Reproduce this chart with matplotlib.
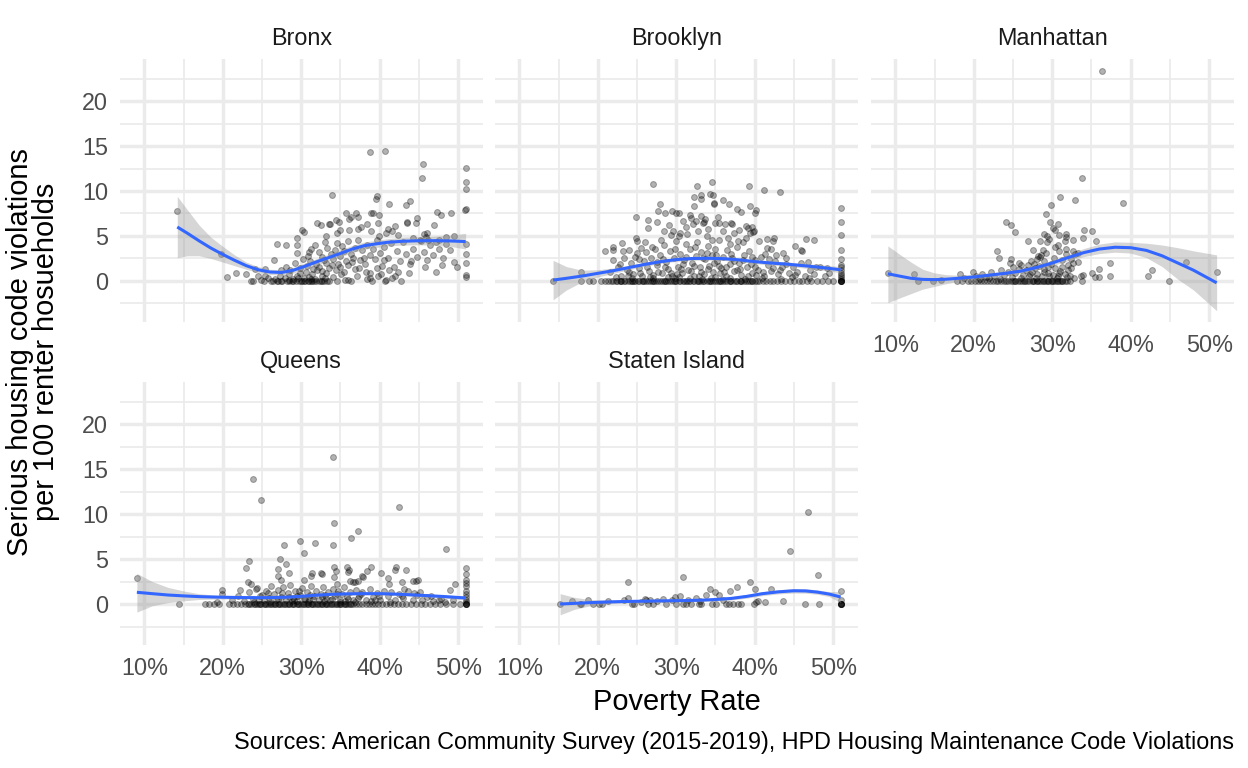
import matplotlib
matplotlib.use("Agg")
import matplotlib.pyplot as plt

# ---------------- data ----------------
boroughs = ["Bronx", "Brooklyn", "Manhattan", "Queens", "Staten Island"]

x_ticks = [10, 20, 30, 40, 50]
x_tick_labels = ["10%", "20%", "30%", "40%", "50%"]
y_ticks = [0, 5, 10, 15, 20]
y_tick_labels = ["0", "5", "10", "15", "20"]

bronx_points = [
    (14.2, 7.8), (38.8, 14.3), (40.7, 14.5), (45.5, 13.0), (45.4, 11.5), (50.95, 12.6), (50.95, 11.0),
    (50.95, 10.2), (50.95, 8.0), (33.9, 9.6), (39.7, 9.4), (39.5, 9.1), (41.2, 8.6), (43.4, 8.4),
    (43.9, 8.9), (47.3, 7.7), (47.8, 7.3), (49.1, 7.5), (50.9, 7.9),
    (35.7, 7.6), (36.3, 7.1), (36.1, 6.9), (37.0, 7.6), (37.2, 7.1), (38.9, 7.5), (39.2, 7.6), (39.9, 7.3),
    (39.8, 6.4), (42.0, 6.1), (43.5, 6.4), (44.6, 6.4), (46.9, 6.2), (32.0, 6.4), (32.5, 6.2), (33.5, 6.3),
    (33.7, 6.3), (34.8, 6.6), (34.4, 6.8), (30.1, 5.7), (30.3, 5.4), (33.1, 5.0), (34.6, 5.3), (35.0, 5.7),
    (36.1, 5.7), (37.2, 5.8), (37.6, 6.0), (38.4, 6.3), (38.9, 5.5), (39.9, 5.0), (40.8, 5.3), (41.0, 5.8),
    (41.6, 5.5), (42.3, 5.1), (45.7, 5.2), (45.9, 4.9), (46.0, 5.3), (48.4, 4.9), (49.5, 5.0), (44.7, 7.0),
    (43.5, 6.5),
    (26.9, 4.1), (28.1, 4.0), (29.4, 4.8), (29.4, 4.0), (29.4, 3.1), (26.5, 2.3), (19.8, 3.0), (31.2, 3.6),
    (31.0, 3.2), (31.7, 4.0), (32.3, 3.2), (32.6, 2.7), (33.0, 4.3), (33.3, 3.7), (33.8, 3.0), (34.0, 2.4),
    (34.3, 3.4), (34.6, 4.2), (34.9, 2.8), (35.2, 3.9), (35.5, 3.3), (35.7, 2.2), (36.0, 4.4), (36.3, 3.0),
    (36.6, 2.6), (36.9, 3.7), (37.2, 4.6), (37.5, 2.3), (37.8, 3.4), (38.1, 1.9), (38.4, 4.0), (38.7, 2.9),
    (39.1, 3.6), (39.4, 2.4), (39.7, 4.5), (40.0, 3.1), (40.3, 1.7), (40.6, 3.8), (41.0, 2.6), (41.4, 4.2),
    (41.8, 1.6), (42.2, 3.3), (42.6, 2.2), (43.0, 4.3), (43.4, 3.0), (43.8, 1.9), (44.3, 3.6), (44.7, 2.7),
    (45.1, 4.6), (45.6, 3.2), (46.0, 2.3), (46.4, 4.0), (46.8, 2.9), (47.2, 4.3), (47.6, 3.5), (48.1, 2.6),
    (48.5, 4.1), (49.0, 3.4), (49.5, 2.1), (50.95, 4.1), (50.95, 3.0), (50.95, 2.0), (44.2, 4.8), (45.2, 4.4),
    (46.2, 4.5), (47.5, 4.5),
    (20.6, 0.4), (21.7, 0.9), (22.9, 0.8), (24.1, 1.3), (24.5, 0.6), (25.4, 1.3), (25.4, 0.5), (27.4, 1.2),
    (28.0, 1.5), (28.6, 1.2), (29.2, 2.0), (29.8, 1.4), (30.2, 2.4), (30.7, 1.7), (31.1, 2.2), (31.5, 1.3),
    (31.9, 1.9), (32.2, 1.5), (32.7, 1.1), (33.1, 2.0), (33.5, 1.4), (33.9, 1.8), (34.4, 1.2), (35.0, 1.6),
    (35.4, 1.0), (36.0, 1.8), (36.8, 1.3), (37.4, 1.4), (38.2, 1.0), (38.8, 0.9), (39.6, 1.4), (40.2, 0.8),
    (41.2, 1.2), (42.3, 1.0), (43.7, 0.9), (47.2, 1.0), (48.0, 1.8), (50.95, 0.7), (50.95, 0.4), (49.8, 1.5),
    (24.9, 0.1), (25.8, 0.3), (26.7, 0.2), (27.3, 0.5), (27.9, 0.3), (28.5, 0.8), (29.0, 0.2), (29.5, 0.5),
    (29.9, 0.9), (30.3, 0.3), (30.6, 1.0), (31.0, 0.4), (31.4, 0.8), (31.8, 0.2), (32.0, 1.2), (32.6, 0.5),
    (33.2, 0.9), (34.0, 0.4), (35.1, 0.8), (35.6, 0.1), (37.1, 0.6), (38.7, 0.3), (39.8, 0.5), (41.6, 0.3),
    (42.0, 0.6), (35.9, 0.1), (38.4, 0.2), (40.8, 0.1), (31.3, 0.2), (33.0, 0.3), (29.6, 0.3), (28.4, 0.1),
    (30.9, 2.8), (32.9, 2.3), (34.7, 1.9), (36.5, 2.1), (38.0, 2.6), (40.5, 2.3), (44.0, 2.2), (45.8, 1.5),
]
bronx_zero_x = [23.6, 23.8, 25.3, 26.1, 26.4, 26.9, 27.1, 27.6, 28.2, 28.8, 29.3, 29.7, 30.1, 30.5, 30.8,
                31.2, 31.6, 32.3, 32.9, 33.6, 34.5, 36.4, 39.0, 40.7, 42.7, 29.0, 30.3, 31.0, 31.9, 32.6,
                33.3, 28.5, 27.4, 30.0, 32.5, 31.4]

brooklyn_points = [
    (27.0, 10.8), (32.7, 10.6), (34.6, 11.0), (39.3, 10.6), (41.2, 10.1), (43.2, 9.9), (32.3, 9.3),
    (33.1, 9.6), (34.3, 9.7), (34.7, 9.5), (27.9, 8.6), (32.2, 8.3), (34.8, 8.7), (36.0, 9.0), (36.7, 8.6),
    (37.7, 8.0), (38.3, 7.7), (39.4, 8.3), (40.2, 7.9), (40.0, 7.5), (24.9, 7.1), (26.4, 6.8), (26.4, 5.9),
    (27.7, 7.8), (28.6, 7.5), (29.4, 7.8), (30.0, 7.5), (30.3, 7.5), (27.5, 6.5), (29.1, 6.2), (31.7, 7.3),
    (31.9, 7.0), (33.2, 7.2), (33.4, 6.4), (35.3, 7.1), (35.5, 6.4), (36.2, 6.3), (37.0, 6.4), (38.9, 6.1),
    (39.1, 5.9), (30.9, 6.7), (31.2, 6.0), (29.6, 5.6), (30.5, 5.3), (32.8, 5.5), (34.0, 5.8), (35.9, 5.6),
    (37.4, 5.3), (38.0, 5.7), (39.8, 5.4), (33.7, 6.9), (28.4, 5.5), (33.1, 9.1), (34.8, 8.6), (37.1, 6.3),
    (33.6, 6.6), (32.1, 6.3), (32.5, 6.7), (34.9, 6.4), (39.6, 6.0), (39.4, 5.3), (39.9, 5.5), (38.9, 4.8),
    (38.5, 4.3), (40.6, 4.4), (41.6, 4.7), (42.4, 4.8), (42.3, 4.4), (41.6, 3.7), (42.1, 3.6), (41.3, 3.0),
    (42.7, 2.9), (45.1, 3.9), (46.0, 3.3), (46.5, 4.7), (47.5, 4.5), (46.8, 2.1), (47.8, 1.5), (49.2, 1.4),
    (45.9, 3.4), (44.0, 1.9), (43.6, 3.1),
    (50.95, 8.1), (50.95, 6.6), (50.95, 5.1), (50.95, 3.4), (50.95, 2.4), (50.95, 1.8), (50.95, 1.5),
    (50.95, 1.2), (50.95, 0.9), (50.95, 0.7), (50.95, 0.4), (50.95, 0.2),
    (17.9, 1.0), (20.9, 3.3), (21.9, 3.8), (21.9, 3.4), (23.1, 4.2), (23.2, 3.3), (24.0, 3.4), (25.0, 3.1),
    (25.5, 3.7), (24.9, 4.8), (25.0, 4.4), (21.5, 1.0), (22.0, 2.3), (22.6, 1.5), (23.0, 0.6), (23.4, 2.5),
    (23.7, 1.2), (24.2, 2.0), (24.5, 0.8), (24.8, 2.7), (25.2, 1.4), (25.6, 0.5), (25.9, 2.2), (26.2, 3.2),
    (26.5, 1.1), (26.8, 2.5), (27.1, 0.7), (27.3, 3.6), (27.6, 1.8), (27.9, 2.9), (28.2, 0.9), (28.5, 4.0),
    (28.7, 2.1), (29.0, 1.3), (29.2, 3.3), (29.5, 0.6), (29.7, 2.6), (30.0, 4.4), (30.2, 1.6), (30.5, 3.0),
    (30.7, 0.9), (31.0, 2.3), (31.2, 4.1), (31.5, 1.2), (31.7, 3.5), (32.0, 2.0), (32.2, 0.5), (32.5, 2.8),
    (32.7, 4.3), (33.0, 1.5), (33.2, 3.2), (33.5, 0.8), (33.7, 2.4), (34.0, 3.9), (34.2, 1.7), (34.5, 2.9),
    (34.7, 1.0), (35.0, 3.6), (35.2, 2.2), (35.5, 4.5), (35.7, 1.4), (36.0, 2.7), (36.3, 0.6), (36.5, 3.4),
    (36.8, 1.9), (37.1, 2.6), (37.4, 1.1), (37.7, 3.8), (38.0, 2.0), (38.3, 0.7), (38.6, 2.9), (39.0, 1.5),
    (39.3, 3.3), (39.7, 0.9), (40.0, 2.3), (40.4, 1.2), (40.8, 2.7), (41.2, 0.6), (41.7, 1.8), (42.1, 1.1),
    (42.6, 2.2), (43.0, 0.8), (43.5, 1.5), (44.0, 2.5), (44.4, 0.9), (44.9, 1.6), (45.4, 1.0), (45.9, 2.0),
    (46.4, 0.6), (47.0, 1.2), (47.6, 0.8), (48.3, 1.6), (48.9, 0.5), (49.5, 0.9), (30.4, 5.0), (31.4, 5.2),
    (33.9, 5.0), (36.6, 4.8), (28.0, 4.6), (29.3, 5.1), (34.6, 4.6), (37.9, 4.4), (26.0, 4.3), (27.0, 0.3),
    (28.9, 0.4), (31.8, 0.3), (33.3, 0.2), (34.9, 0.4), (36.9, 0.3), (38.8, 0.2), (40.9, 0.3), (43.3, 0.2),
    (29.9, 0.3), (32.9, 0.5), (35.9, 0.2), (24.3, 0.3), (22.3, 0.4), (26.3, 1.6), (28.3, 2.4), (30.8, 1.9),
    (33.4, 2.6), (35.4, 1.7), (37.3, 2.2), (39.5, 1.9), (31.9, 1.1), (34.1, 1.3), (36.1, 1.0), (30.1, 0.8),
    (27.7, 1.0), (25.4, 0.9), (23.8, 0.5), (38.1, 1.3), (40.2, 0.7), (42.3, 1.4), (44.7, 0.4), (46.9, 0.3),
    (22.8, 1.9), (24.0, 1.0), (25.3, 2.4), (26.6, 0.4), (27.5, 2.1), (28.6, 1.5), (29.3, 0.9), (30.6, 1.3),
    (31.3, 2.7), (32.3, 1.7), (33.1, 1.0), (33.9, 3.1), (34.8, 2.0), (35.6, 0.9), (36.4, 1.6), (37.0, 3.0),
    (37.8, 1.2), (38.5, 2.3), (39.2, 0.6), (40.1, 1.6), (41.0, 1.0), (41.8, 2.4), (43.2, 1.2), (45.1, 0.7),
    (26.9, 3.8), (29.9, 3.5), (32.4, 3.8), (35.1, 2.9), (36.9, 4.1), (39.6, 2.7), (30.3, 0.4), (34.4, 0.3),
]
brooklyn_zero_x = [14.3, 17.9, 18.9, 19.4, 20.4, 20.9, 21.3, 21.7, 22.0, 22.3, 22.5, 22.8, 23.0, 23.3, 23.5,
                   23.8, 24.1, 24.3, 24.6, 24.8, 25.1, 25.3, 25.6, 25.9, 26.1, 26.4, 26.6, 26.9, 27.2, 27.4,
                   27.7, 27.9, 28.2, 28.4, 28.7, 29.0, 29.2, 29.5, 29.7, 30.0, 30.3, 30.5, 30.8, 31.0, 31.3,
                   31.6, 31.8, 32.1, 32.3, 32.6, 32.9, 33.1, 33.4, 33.6, 33.9, 34.2, 34.4, 34.7, 34.9, 35.2,
                   35.5, 35.7, 36.0, 36.2, 36.5, 36.8, 37.0, 37.3, 37.6, 37.8, 38.1, 38.3, 38.6, 38.9, 39.1,
                   39.4, 39.7, 40.0, 40.3, 40.6, 41.0, 41.5, 42.0, 42.3, 42.9, 43.4, 43.8, 44.5, 45.0, 45.6,
                   46.0, 46.7, 47.2, 47.9, 48.6, 49.3, 50.0, 50.95, 50.95, 50.95, 50.95, 50.95,
                   22.9, 24.4, 25.8, 27.1, 28.6, 29.9, 31.4, 32.8, 34.3, 35.6, 36.9, 38.2, 39.6]

manhattan_points = [
    (36.3, 23.3), (33.8, 11.4), (31.0, 9.3), (29.8, 8.4), (32.9, 9.0), (39.0, 8.7), (29.2, 7.4), (24.1, 6.6),
    (24.8, 6.2), (25.3, 5.4), (29.7, 6.5), (30.1, 5.9), (30.4, 5.7), (30.7, 6.3), (28.9, 5.2), (29.3, 5.0),
    (29.6, 4.7), (28.5, 4.4), (29.3, 4.3), (26.9, 4.4), (30.9, 5.1), (31.7, 5.2), (31.8, 4.9), (31.6, 4.4),
    (30.7, 4.0), (30.8, 3.3), (31.7, 3.6), (31.8, 3.0), (32.6, 4.6), (33.9, 4.8), (34.1, 5.7), (35.1, 5.6),
    (35.6, 4.4), (23.0, 3.3), (23.2, 2.6), (24.8, 2.4), (24.6, 2.0), (25.8, 2.0), (26.0, 1.8), (28.2, 2.8),
    (28.4, 2.7), (28.6, 2.9), (28.0, 2.4), (27.3, 2.2), (27.7, 1.9), (26.9, 1.8), (32.6, 3.3), (32.9, 3.0),
    (33.3, 3.1), (32.4, 2.4), (32.6, 2.0), (32.0, 1.8), (32.4, 1.4), (33.3, 2.1), (33.9, 0.7), (33.7, 0.55),
    (35.1, 0.9), (35.4, 0.45), (36.0, 1.3), (36.0, 0.45), (37.3, 0.55), (37.3, 2.0), (42.2, 0.55),
    (42.7, 1.2), (47.1, 2.1), (50.95, 1.0), (9.05, 0.85), (12.4, 0.8), (15.8, 0.15), (18.2, 0.8),
    (18.8, 0.3), (19.9, 1.0), (20.3, 0.6), (21.0, 0.8), (21.5, 0.4), (22.2, 1.0), (22.6, 0.5), (23.5, 1.2),
    (23.9, 0.7), (24.4, 1.0), (25.0, 1.6), (25.3, 0.9), (25.7, 1.3), (26.3, 0.7), (26.6, 1.2), (27.0, 0.5),
    (27.4, 1.0), (27.8, 1.4), (28.1, 0.8), (28.3, 1.7), (28.7, 0.6), (29.0, 1.3), (29.4, 0.9), (29.8, 1.9),
    (30.1, 0.7), (30.4, 1.4), (30.7, 0.5), (31.0, 1.1), (31.3, 2.3), (31.6, 0.8), (32.0, 1.2), (32.3, 0.6),
    (29.0, 2.2), (29.5, 1.6), (30.2, 2.6), (31.2, 1.6), (28.8, 3.4), (29.2, 3.1), (30.3, 3.8), (27.5, 3.4),
    (27.9, 0.3), (26.0, 0.3), (24.9, 0.4), (23.3, 0.2), (22.0, 0.3), (20.8, 0.2), (30.6, 0.3), (31.9, 0.4),
    (32.8, 0.3), (28.9, 1.0), (30.9, 0.9), (27.2, 0.8), (29.6, 0.5),
]
manhattan_zero_x = [12.9, 14.8, 17.9, 18.5, 19.2, 19.6, 20.1, 20.5, 20.9, 21.3, 21.7, 22.1, 22.4, 22.8, 23.1,
                    23.5, 23.8, 24.1, 24.4, 24.7, 25.0, 25.3, 25.6, 25.9, 26.2, 26.5, 26.8, 27.1, 27.4, 27.7,
                    28.0, 28.3, 28.6, 28.9, 29.2, 29.5, 29.8, 30.1, 30.4, 30.7, 31.0, 31.3, 31.6, 31.9, 32.2,
                    33.8, 44.9, 28.1, 28.8, 29.4, 30.0, 30.6, 31.2, 25.2, 26.4, 27.5]

queens_points = [
    (9.05, 2.9), (34.1, 16.3), (23.9, 13.9), (24.9, 11.6), (42.5, 10.8), (34.2, 9.0), (37.2, 8.1),
    (36.3, 7.3), (29.9, 7.0), (31.7, 6.8), (34.1, 6.6), (27.8, 6.6), (30.3, 5.7), (48.4, 6.1), (27.3, 5.0),
    (23.4, 4.8), (23.0, 4.0), (27.1, 3.9), (28.1, 4.4), (28.4, 3.4), (27.1, 3.1), (27.4, 2.7), (23.2, 2.4),
    (23.6, 2.2), (24.2, 1.7), (22.2, 1.6), (19.9, 1.6), (19.9, 1.1), (19.3, 0.2), (31.4, 3.4), (31.3, 3.1),
    (32.7, 3.3), (30.4, 2.7), (34.2, 4.1), (34.4, 3.7), (34.2, 3.0), (34.6, 2.2), (36.1, 3.8), (35.9, 3.6),
    (36.2, 2.6), (36.6, 2.4), (37.2, 2.6), (37.8, 3.1), (38.4, 3.7), (38.9, 4.1), (40.2, 3.4), (41.0, 2.9),
    (41.2, 2.2), (41.9, 3.8), (42.1, 4.1), (42.8, 2.4), (43.4, 3.8), (44.3, 2.6), (44.6, 2.6), (44.9, 2.7),
    (44.4, 1.2), (47.8, 0.6), (49.0, 1.6), (49.6, 2.2), (32.5, 3.4), (35.8, 4.1), (36.8, 2.5), (37.9, 3.0),
    (43.1, 1.7), (46.5, 0.9),
    (50.95, 4.0), (50.95, 3.3), (50.95, 2.7), (50.95, 2.3), (50.95, 2.0), (50.95, 1.5), (50.95, 1.1),
    (50.95, 0.8), (50.95, 0.4), (50.95, 0.2),
    (21.2, 0.4), (22.0, 0.9), (22.7, 0.3), (23.3, 1.3), (23.9, 0.6), (24.4, 1.8), (24.8, 0.9), (25.2, 0.4),
    (25.5, 1.4), (25.9, 0.7), (26.2, 2.0), (26.5, 1.1), (26.8, 0.5), (27.1, 1.6), (27.4, 0.8), (27.7, 1.9),
    (28.0, 0.4), (28.3, 1.2), (28.6, 2.1), (28.9, 0.7), (29.2, 1.5), (29.5, 0.3), (29.8, 1.0), (30.1, 1.8),
    (30.4, 0.6), (30.7, 1.3), (31.0, 0.4), (31.3, 2.0), (31.6, 0.9), (31.9, 1.5), (32.2, 0.5), (32.5, 1.1),
    (32.8, 1.9), (33.1, 0.7), (33.4, 1.3), (33.7, 0.4), (34.0, 1.7), (34.3, 0.9), (34.7, 1.4), (35.0, 0.5),
    (35.4, 1.9), (35.8, 0.8), (36.2, 1.3), (36.6, 0.4), (37.0, 1.6), (37.4, 0.9), (37.8, 1.3), (38.2, 0.5),
    (38.7, 1.7), (39.1, 0.8), (39.6, 1.2), (40.0, 0.5), (40.5, 1.5), (41.0, 0.9), (41.5, 1.3), (42.0, 0.4),
    (42.5, 1.1), (43.0, 0.7), (43.6, 1.4), (44.2, 0.5), (44.8, 1.0), (45.4, 0.4), (46.0, 0.8), (46.8, 0.3),
    (47.5, 0.5), (48.3, 0.2), (49.4, 0.5), (26.0, 0.2), (28.8, 0.3), (30.9, 0.2), (32.9, 0.3), (34.9, 0.2),
    (36.9, 0.2), (38.9, 0.3), (41.3, 0.2), (24.0, 0.2), (27.6, 1.2), (29.4, 0.9), (31.1, 1.0), (33.0, 1.0),
    (35.2, 1.1), (37.2, 0.7), (39.9, 0.9), (25.0, 1.0), (30.5, 0.6), (33.9, 0.6),
    (24.6, 0.5), (25.8, 1.2), (27.0, 0.6), (28.5, 0.8), (29.7, 1.4), (31.5, 0.6), (32.7, 0.8), (34.5, 1.1),
    (36.0, 0.6), (37.6, 1.1), (39.4, 0.4), (42.8, 0.9), (45.1, 1.3), (29.1, 0.5), (35.6, 0.3),
]
queens_zero_x = [14.4, 17.7, 18.3, 18.9, 19.5, 20.8, 21.3, 21.8, 22.3, 22.8, 23.2, 23.6, 24.0, 24.3, 24.6,
                 24.9, 25.2, 25.5, 25.8, 26.1, 26.4, 26.7, 27.0, 27.3, 27.6, 27.9, 28.2, 28.5, 28.8, 29.1,
                 29.4, 29.7, 30.0, 30.3, 30.6, 30.9, 31.2, 31.5, 31.8, 32.1, 32.4, 32.7, 33.0, 33.3, 33.6,
                 33.9, 34.2, 34.5, 34.8, 35.1, 35.4, 35.7, 36.0, 36.3, 36.6, 37.0, 37.4, 37.8, 38.2, 38.6,
                 39.0, 39.4, 39.8, 40.3, 40.8, 41.3, 41.8, 42.3, 42.8, 43.4, 44.0, 44.6, 45.2, 45.8, 46.4,
                 47.0, 47.7, 48.5, 49.3, 50.2, 50.95, 50.95, 50.95, 50.95,
                 23.4, 24.1, 24.8, 25.4, 26.0, 26.6, 27.2, 27.8, 28.4, 29.0, 29.6, 30.2, 30.8, 31.4, 32.0,
                 32.6, 33.2, 33.8, 34.4, 35.0, 35.6, 36.2]

staten_points = [
    (16.7, 0.3), (18.7, 0.4), (21.3, 0.3), (23.4, 0.5), (23.8, 0.7), (23.9, 2.4), (26.0, 0.6), (26.2, 0.4),
    (26.7, 0.5), (28.3, 0.6), (29.4, 0.5), (29.8, 0.8), (30.5, 0.9), (30.9, 3.0), (32.5, 0.7), (33.8, 1.0),
    (34.3, 1.7), (34.9, 1.3), (35.5, 0.96), (36.9, 1.5), (37.7, 1.9), (39.4, 2.5), (40.0, 1.7), (40.2, 0.26),
    (40.4, 0.33), (41.3, 0.26), (42.1, 1.7), (43.6, 0.3), (44.5, 5.9), (46.8, 10.2), (48.1, 3.2),
    (50.95, 1.5), (50.95, 0.4), (27.5, 0.3), (31.5, 0.4), (33.0, 0.3), (35.9, 0.4), (25.5, 0.2),
]
staten_zero_x = [15.2, 17.7, 17.9, 19.4, 20.2, 20.6, 24.3, 24.6, 26.4, 27.0, 28.7, 30.0, 30.9, 31.3, 31.9,
                 32.9, 33.2, 34.6, 35.1, 36.4, 36.7, 37.2, 37.9, 38.3, 39.9, 46.4, 48.2, 50.95, 50.95,
                 50.95, 50.95, 50.95]

# loess fits: x, fitted y, lower and upper band
bronx_fit_x = [14.2, 15.5, 17.0, 18.5, 20.0, 21.5, 23.0, 24.5, 26.0, 27.5, 29.0, 30.5, 32.0, 33.5, 35.0,
               36.5, 38.0, 39.5, 41.0, 43.0, 45.0, 47.0, 49.0, 50.95]
bronx_fit_y = [6.0, 5.3, 4.45, 3.65, 2.95, 2.3, 1.7, 1.25, 1.0, 0.95, 1.2, 1.65, 2.15, 2.6, 3.07, 3.55,
               3.92, 4.12, 4.3, 4.42, 4.47, 4.48, 4.45, 4.38]
bronx_fit_lo = [2.6, 2.8, 2.8, 2.5, 2.1, 1.7, 1.3, 0.95, 0.72, 0.65, 0.88, 1.3, 1.8, 2.22, 2.68, 3.15,
                3.52, 3.72, 3.9, 4.0, 4.02, 3.98, 3.85, 3.55]
bronx_fit_hi = [9.4, 7.9, 6.2, 4.85, 3.85, 2.9, 2.1, 1.6, 1.3, 1.25, 1.52, 2.0, 2.5, 2.98, 3.46, 3.95,
                4.32, 4.52, 4.7, 4.84, 4.92, 4.98, 5.08, 5.3]

brooklyn_fit_x = [14.3, 16.0, 18.0, 20.0, 22.0, 24.0, 26.0, 28.0, 30.0, 32.0, 34.0, 36.0, 38.0, 40.0, 42.0,
                  44.0, 46.0, 48.0, 50.95]
brooklyn_fit_y = [0.1, 0.3, 0.55, 0.85, 1.15, 1.5, 1.85, 2.15, 2.38, 2.5, 2.52, 2.48, 2.35, 2.15, 2.0,
                  1.88, 1.72, 1.55, 1.25]
brooklyn_fit_lo = [-2.1, -1.0, -0.1, 0.45, 0.85, 1.25, 1.65, 1.95, 2.18, 2.3, 2.32, 2.28, 2.15, 1.93, 1.77,
                   1.63, 1.47, 1.28, 0.92]
brooklyn_fit_hi = [2.3, 1.6, 1.2, 1.25, 1.45, 1.75, 2.05, 2.35, 2.58, 2.7, 2.72, 2.68, 2.55, 2.37, 2.23,
                   2.13, 1.97, 1.82, 1.6]

manhattan_fit_x = [9.05, 10.5, 12.0, 13.5, 15.0, 16.5, 18.0, 20.0, 22.0, 24.0, 26.0, 28.0, 30.0, 32.0,
                   34.0, 36.0, 38.0, 40.0, 42.0, 44.0, 46.0, 48.0, 50.95]
manhattan_fit_y = [0.8, 0.55, 0.3, 0.18, 0.15, 0.2, 0.3, 0.45, 0.65, 0.85, 1.1, 1.5, 2.0, 2.6, 3.15, 3.55,
                   3.75, 3.7, 3.4, 2.8, 2.0, 1.2, -0.2]
manhattan_fit_lo = [-2.4, -1.9, -1.4, -0.9, -0.6, -0.3, -0.05, 0.15, 0.4, 0.6, 0.85, 1.25, 1.7, 2.25, 2.7,
                    3.05, 3.2, 3.1, 2.6, 1.6, 0.2, -1.0, -3.3]
manhattan_fit_hi = [3.9, 3.0, 2.1, 1.3, 0.9, 0.7, 0.65, 0.75, 0.9, 1.1, 1.35, 1.75, 2.3, 2.95, 3.6, 4.1,
                    4.35, 4.3, 4.2, 4.0, 3.7, 3.35, 2.9]

queens_fit_x = [9.05, 11.0, 13.0, 15.0, 17.0, 19.0, 22.0, 25.0, 28.0, 30.0, 32.0, 34.0, 36.0, 38.0, 40.0,
                42.0, 44.0, 46.0, 48.0, 50.95]
queens_fit_y = [1.3, 1.15, 1.0, 0.9, 0.82, 0.77, 0.72, 0.7, 0.75, 0.85, 0.98, 1.08, 1.13, 1.15, 1.15,
                1.1, 1.02, 0.93, 0.84, 0.67]
queens_fit_lo = [-0.9, -0.2, 0.15, 0.35, 0.5, 0.55, 0.57, 0.58, 0.63, 0.73, 0.86, 0.95, 1.0, 1.01, 1.0,
                 0.95, 0.86, 0.76, 0.66, 0.45]
queens_fit_hi = [3.4, 2.5, 1.85, 1.45, 1.14, 0.99, 0.87, 0.82, 0.87, 0.97, 1.1, 1.21, 1.26, 1.29, 1.3,
                 1.25, 1.18, 1.1, 1.02, 0.89]

staten_fit_x = [15.2, 17.0, 19.0, 21.0, 23.0, 25.0, 27.0, 29.0, 31.0, 33.0, 35.0, 37.0, 39.0, 41.0, 43.0,
                45.0, 46.5, 48.0, 49.5, 50.95]
staten_fit_y = [0.0, 0.07, 0.15, 0.22, 0.27, 0.3, 0.33, 0.36, 0.38, 0.42, 0.5, 0.62, 0.85, 1.15, 1.35,
                1.47, 1.45, 1.32, 1.1, 0.78]
staten_fit_lo = [-1.2, -0.6, -0.2, 0.0, 0.1, 0.15, 0.18, 0.21, 0.23, 0.26, 0.33, 0.44, 0.65, 0.93, 1.12,
                 1.22, 1.2, 1.08, 0.82, 0.15]
staten_fit_hi = [1.15, 0.74, 0.5, 0.44, 0.44, 0.45, 0.48, 0.51, 0.53, 0.58, 0.67, 0.8, 1.05, 1.37, 1.58,
                 1.72, 1.7, 1.56, 1.38, 1.4]

caption = "Sources: American Community Survey (2015-2019), HPD Housing Maintenance Code Violations"
x_title = "Poverty Rate"
y_title = "Serious housing code violations\nper 100 renter hosueholds"

panels = [
    ("Bronx", bronx_points, bronx_zero_x, bronx_fit_x, bronx_fit_y, bronx_fit_lo, bronx_fit_hi),
    ("Brooklyn", brooklyn_points, brooklyn_zero_x, brooklyn_fit_x, brooklyn_fit_y, brooklyn_fit_lo, brooklyn_fit_hi),
    ("Manhattan", manhattan_points, manhattan_zero_x, manhattan_fit_x, manhattan_fit_y, manhattan_fit_lo, manhattan_fit_hi),
    ("Queens", queens_points, queens_zero_x, queens_fit_x, queens_fit_y, queens_fit_lo, queens_fit_hi),
    ("Staten Island", staten_points, staten_zero_x, staten_fit_x, staten_fit_y, staten_fit_lo, staten_fit_hi),
]

# ---------------- figure ----------------
plt.rcParams['font.family'] = ['Liberation Sans', 'DejaVu Sans']
W, H = 1248, 768
fig = plt.figure(figsize=(W / 100, H / 100), dpi=100)
fig.patch.set_facecolor("white")

col_left = [120, 495, 871]
row_top = [58.7, 381.7]
pw, ph = 362.5, 263.7
tick_fs = 16.8
title_fs = 20.9
grid_col = "#EBEBEB"

for i, (name, pts, zx, fx, fy, flo, fhi) in enumerate(panels):
    r, c = divmod(i, 3)
    left, top = col_left[c], row_top[r]
    ax = fig.add_axes([left / W, 1 - (top + ph) / H, pw / W, ph / H])
    ax.set_xlim(6.9, 53.1)
    ax.set_ylim(-4.6, 24.7)
    for s in ax.spines.values():
        s.set_visible(False)
    ax.set_xticks(x_ticks)
    ax.set_xticks([15, 25, 35, 45], minor=True)
    ax.set_yticks(y_ticks)
    ax.set_yticks([-2.5, 2.5, 7.5, 12.5, 17.5, 22.5], minor=True)
    ax.grid(which="major", color=grid_col, linewidth=2.5, zorder=0)
    ax.grid(which="minor", color=grid_col, linewidth=1.25, zorder=0)
    ax.set_axisbelow(True)
    ax.tick_params(which="both", length=0, pad=8.6, labelsize=tick_fs, labelcolor="#4D4D4D")
    show_x = name in ("Manhattan", "Queens", "Staten Island")
    show_y = c == 0
    ax.set_xticklabels(x_tick_labels if show_x else [""] * 5)
    ax.set_yticklabels(y_tick_labels if show_y else [""] * 5)

    px = [p[0] for p in pts] + list(zx)
    py = [p[1] for p in pts] + [0.0] * len(zx)
    ax.scatter(px, py, s=18, facecolors=(0, 0, 0, 0.3), edgecolors=(0, 0, 0, 0.3),
               linewidths=0.75, zorder=2)
    ax.fill_between(fx, flo, fhi, color="#999999", alpha=0.4, linewidth=0, zorder=3)
    ax.plot(fx, fy, color="#3366FF", linewidth=2.2, zorder=4, solid_capstyle="butt")

    fig.text((left + pw / 2) / W, 1 - (top - 20) / H, name, ha="center", va="center",
             fontsize=tick_fs, color="#1A1A1A")

fig.text(33 / W, 1 - 352 / H, y_title, rotation=90, ha="center", va="center",
         fontsize=title_fs, color="black", multialignment="center", linespacing=0.95)
fig.text(677 / W, 1 - 702 / H, x_title, ha="center", va="center", fontsize=title_fs, color="black")
fig.text(1234 / W, 1 - 742 / H, caption, ha="right", va="center", fontsize=tick_fs, color="black")

fig.savefig("out.png", dpi=100, facecolor="white")
